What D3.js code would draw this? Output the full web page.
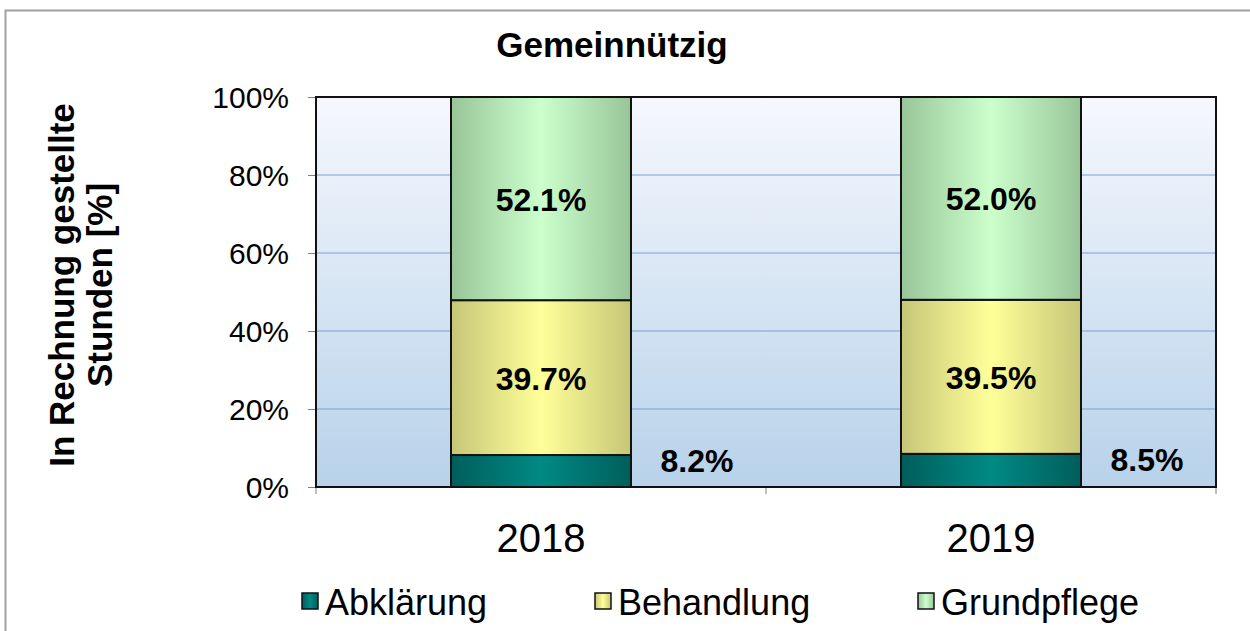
<!DOCTYPE html>
<html>
<head>
<meta charset="utf-8">
<script src="https://d3js.org/d3.v7.min.js"></script>
<style>
  body { margin: 0; background: #fff; }
  text { font-family: "Liberation Sans", Arial, sans-serif; }
</style>
</head>
<body>
<div id="container"></div>
<script>
var years = ["2018", "2019"];
var seriesNames = ["Abklärung", "Behandlung", "Grundpflege"];
var abklaerung = [8.2, 8.5];
var behandlung = [39.7, 39.5];
var grundpflege = [52.1, 52.0];
var yTicks = [0, 20, 40, 60, 80, 100];

var W = 1250, H = 631;
var svg = d3.select("#container").append("svg")
    .attr("width", W).attr("height", H);

var defs = svg.append("defs");
var bg = defs.append("linearGradient").attr("id", "bg")
    .attr("x1", 0).attr("y1", 0).attr("x2", 0).attr("y2", 1);
bg.append("stop").attr("offset", "0%").attr("stop-color", "#f6f8fd");
bg.append("stop").attr("offset", "100%").attr("stop-color", "#b7d2ea");

var fills = [
  {id: "g0", edge: "#005e5b", mid: "#008a85"},
  {id: "g1", edge: "#c6c678", mid: "#ffff99"},
  {id: "g2", edge: "#98c598", mid: "#ccffcc"}
];
fills.forEach(function(f) {
  var g = defs.append("linearGradient").attr("id", f.id)
      .attr("x1", 0).attr("y1", 0).attr("x2", 1).attr("y2", 0);
  g.append("stop").attr("offset", "0%").attr("stop-color", f.edge);
  g.append("stop").attr("offset", "50%").attr("stop-color", f.mid);
  g.append("stop").attr("offset", "100%").attr("stop-color", f.edge);
});

// outer frame
svg.append("path")
    .attr("d", "M5.5," + H + " V10.5 H" + W)
    .attr("fill", "none").attr("stroke", "#a0a0a0").attr("stroke-width", 2);

var plotL = 316, plotR = 1216, plotT = 97, plotB = 487;

var x = d3.scaleBand().domain(years).range([plotL, plotR]).paddingInner(0).paddingOuter(0);
var y = d3.scaleLinear().domain([0, 100]).range([plotB, plotT]);

svg.append("rect")
    .attr("x", plotL).attr("y", plotT)
    .attr("width", plotR - plotL).attr("height", plotB - plotT)
    .attr("fill", "url(#bg)");

svg.selectAll(".grid").data([20, 40, 60, 80]).enter().append("line")
    .attr("x1", plotL).attr("x2", plotR)
    .attr("y1", function(d) { return y(d); }).attr("y2", function(d) { return y(d); })
    .attr("stroke", "#7f9fcf").attr("stroke-width", 1);

// stacked data
var rows = years.map(function(yr, i) {
  return {year: yr, "Abklärung": abklaerung[i], "Behandlung": behandlung[i], "Grundpflege": grundpflege[i]};
});
var stack = d3.stack().keys(seriesNames)(rows);
var barW = x.bandwidth() * 0.4;

var layers = svg.selectAll(".layer").data(stack).enter().append("g")
    .attr("fill", function(d, i) { return "url(#g" + i + ")"; });

layers.selectAll("rect").data(function(d) { return d; }).enter().append("rect")
    .attr("x", function(d) { return x(d.data.year) + (x.bandwidth() - barW) / 2; })
    .attr("y", function(d) { return y(d[1]); })
    .attr("width", barW)
    .attr("height", function(d) { return y(d[0]) - y(d[1]); })
    .attr("stroke", "#111").attr("stroke-width", 2);

// data labels
stack.forEach(function(layer, si) {
  layer.forEach(function(d) {
    var v = d[1] - d[0];
    var cx, cy;
    if (si === 0) {
      cx = x(d.data.year) + (x.bandwidth() + barW) / 2 + 66;
      cy = y(d[1]) + 17;
    } else {
      cx = x(d.data.year) + x.bandwidth() / 2;
      cy = (y(d[0]) + y(d[1])) / 2 + 12;
    }
    svg.append("text")
        .attr("x", cx).attr("y", cy)
        .attr("text-anchor", "middle")
        .attr("font-size", 32).attr("font-weight", "bold")
        .text(v.toFixed(1) + "%");
  });
});

// axes
var yAxis = svg.append("g").attr("transform", "translate(" + plotL + ",0)")
    .call(d3.axisLeft(y).tickValues(yTicks).tickSize(8).tickSizeOuter(0)
      .tickFormat(function(d) { return d + "%"; }));
yAxis.select(".domain").remove();
yAxis.selectAll(".tick line").attr("stroke", "#808080");
yAxis.selectAll("text").attr("font-size", 30).attr("fill", "#000")
    .attr("x", -27).attr("dy", "0.36em")
    .style("font-family", "'Liberation Sans', Arial, sans-serif");

var xAxis = svg.append("g").attr("transform", "translate(0," + plotB + ")")
    .call(d3.axisBottom(x).tickSize(0).tickSizeOuter(0));
xAxis.select(".domain").remove();
xAxis.selectAll("text").attr("font-size", 40).attr("fill", "#000")
    .attr("y", 65).attr("dy", 0)
    .style("font-family", "'Liberation Sans', Arial, sans-serif");

svg.selectAll(".xtick").data([plotL, plotL + x.bandwidth(), plotR]).enter().append("line")
    .attr("x1", function(d) { return d; }).attr("x2", function(d) { return d; })
    .attr("y1", plotB).attr("y2", plotB + 7)
    .attr("stroke", "#808080");

// plot border
svg.append("rect")
    .attr("x", plotL).attr("y", plotT)
    .attr("width", plotR - plotL).attr("height", plotB - plotT)
    .attr("fill", "none").attr("stroke", "#111").attr("stroke-width", 2);

// title
svg.append("text").attr("x", 612).attr("y", 57)
    .attr("text-anchor", "middle").attr("font-size", 35).attr("font-weight", "bold")
    .text("Gemeinnützig");

// y title
var yt = svg.append("text").attr("transform", "translate(81,285) rotate(-90)")
    .attr("text-anchor", "middle").attr("font-size", 35).attr("font-weight", "bold");
yt.append("tspan").attr("x", 0).attr("dy", "-0.2em").text("In Rechnung gestellte");
yt.append("tspan").attr("x", 0).attr("dy", "1.08em").text("Stunden [%]");

// legend
var legX = [302, 595, 918];
var leg = svg.selectAll(".leg").data(seriesNames).enter().append("g")
    .attr("transform", function(d, i) { return "translate(" + legX[i] + ",593)"; });
leg.append("rect").attr("x", 0).attr("y", 0).attr("width", 16).attr("height", 16)
    .attr("fill", function(d, i) { return "url(#g" + i + ")"; })
    .attr("stroke", "#111").attr("stroke-width", 1.5);
leg.append("text").attr("x", 23).attr("y", 22).attr("font-size", 36)
    .text(function(d) { return d; });
</script>
</body>
</html>
